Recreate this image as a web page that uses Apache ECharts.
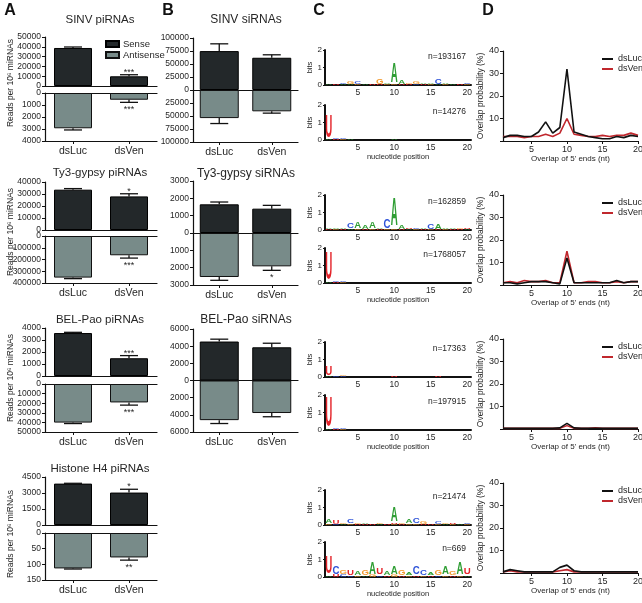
<!DOCTYPE html>
<html><head><meta charset="utf-8">
<script src="https://cdn.jsdelivr.net/npm/echarts@6/dist/echarts.min.js"></script>
<style>html,body{margin:0;padding:0;background:#fff}#c{width:642px;height:603px}</style>
</head><body><div id="c"></div>
<script>
// ---------------- DATA ----------------
const categories = ['dsLuc', 'dsVen'];

// Panel A: piRNAs (sense upper, antisense lower)
const piTitles = ['SINV piRNAs', 'Ty3-gypsy piRNAs', 'BEL-Pao piRNAs', 'Histone H4 piRNAs'];
const piSense = [[38800, 9900], [33600, 28000], [3580, 1480], [3880, 3040]];
const piSenseErr = [[1000, 1600], [900, 2200], [60, 220], [30, 310]];
const piSenseStars = [['', '***'], ['', '*'], ['', '***'], ['', '*']];
const piAnti = [[2940, 560], [354000, 164000], [40200, 19200], [113, 78]];
const piAntiErr = [[140, 220], [9000, 24000], [1000, 2800], [2, 8.6]];
const piAntiStars = [['', '***'], ['', '***'], ['', '***'], ['', '**']];
const piSenseTicks = [[50000, 10000], [40000, 10000], [4000, 1000], [4500, 1500]];
const piAntiTicks = [[4000, 1000], [400000, 100000], [50000, 10000], [150, 50]];

// Panel B: siRNAs
const siTitles = ['SINV siRNAs', 'Ty3-gypsy siRNAs', 'BEL-Pao siRNAs'];
const siSense = [[74800, 62000], [1654, 1404], [4540, 3868]];
const siSenseErr = [[14000, 5700], [134, 190], [275, 474]];
const siAnti = [[54000, 41000], [2538, 1923], [4618, 3789]];
const siAntiErr = [[10500, 3500], [192, 231], [394, 434]];
const siAntiStars = [['', ''], ['', '*'], ['', '']];
const siTicks = [[100000, 25000], [3000, 1000], [6000, 2000]];

// Panel C: sequence logos [position, nucleotide, bits]
const logoCounts = ['n=193167', 'n=14276', 'n=162859', 'n=1768057', 'n=17363', 'n=197915', 'n=21474', 'n=669'];
const logo1 = [[1,'A',0.04],[2,'U',0.04],[3,'C',0.1],[3,'A',0.05],[4,'G',0.12],[4,'A',0.05],[5,'C',0.12],[5,'G',0.05],[6,'A',0.04],[7,'U',0.04],
  [8,'G',0.3],[8,'U',0.05],[9,'A',0.08],[9,'G',0.04],[10,'A',1.15],[10,'G',0.05],[11,'A',0.25],[11,'U',0.05],[12,'G',0.08],[12,'U',0.04],[13,'G',0.14],[13,'C',0.05],
  [14,'A',0.1],[14,'U',0.04],[15,'A',0.09],[15,'G',0.05],[16,'C',0.28],[16,'A',0.05],[17,'A',0.1],[17,'G',0.05],[18,'A',0.08],[19,'U',0.04],[20,'C',0.1],[20,'G',0.04]];
const logo2 = [[1,'U',1.28],[1,'A',0.05],[2,'C',0.05],[2,'U',0.04],[3,'C',0.1],[3,'G',0.05],[4,'A',0.03],[5,'U',0.02],[10,'A',0.03],[11,'U',0.02]];
const logo3 = [[1,'A',0.1],[1,'U',0.04],[2,'A',0.08],[2,'G',0.04],[3,'A',0.1],[3,'U',0.04],[4,'C',0.3],[4,'A',0.06],[5,'A',0.35],[5,'G',0.05],[6,'A',0.2],[6,'U',0.05],
  [7,'A',0.4],[7,'G',0.05],[8,'A',0.08],[8,'U',0.04],[9,'C',0.55],[9,'G',0.05],[10,'A',1.55],[10,'G',0.08],[11,'A',0.18],[11,'U',0.05],[12,'U',0.08],[12,'A',0.04],
  [13,'C',0.06],[13,'G',0.04],[14,'A',0.08],[14,'U',0.04],[15,'C',0.3],[15,'G',0.05],[16,'A',0.28],[16,'U',0.05],[17,'A',0.08],[17,'G',0.04],[18,'A',0.07],[18,'U',0.04],
  [19,'G',0.07],[19,'U',0.05],[20,'U',0.1],[20,'A',0.05]];
const logo4 = [[1,'U',1.62],[1,'A',0.05],[2,'C',0.05],[2,'U',0.03],[3,'C',0.08],[3,'G',0.04],[11,'U',0.02],[19,'U',0.02]];
const logo5 = [[1,'U',0.5],[1,'A',0.05],[2,'C',0.04],[3,'G',0.04],[3,'C',0.03],[10,'U',0.03],[16,'U',0.03]];
const logo6 = [[1,'U',1.75],[1,'A',0.05],[2,'C',0.04],[2,'U',0.03],[3,'C',0.08],[3,'G',0.04]];
const logo7 = [[1,'A',0.25],[1,'G',0.06],[2,'U',0.2],[2,'C',0.05],[3,'G',0.06],[3,'A',0.05],[4,'C',0.25],[4,'G',0.08],[5,'G',0.1],[5,'U',0.05],[6,'A',0.06],[6,'U',0.04],
  [7,'U',0.05],[8,'G',0.06],[8,'A',0.04],[9,'U',0.05],[10,'A',0.8],[10,'U',0.08],[10,'G',0.05],[11,'G',0.08],[11,'U',0.05],[12,'A',0.2],[12,'G',0.07],
  [13,'C',0.3],[13,'G',0.1],[14,'G',0.12],[14,'U',0.06],[15,'U',0.05],[16,'C',0.12],[16,'G',0.06],[17,'G',0.1],[17,'A',0.05],[18,'U',0.06],[18,'G',0.04],[19,'A',0.04],[20,'C',0.08],[20,'G',0.04]];
const logo8 = [[1,'U',0.95],[1,'A',0.1],[2,'C',0.45],[2,'U',0.12],[3,'G',0.22],[3,'C',0.12],[4,'U',0.3],[4,'C',0.1],[5,'A',0.22],[5,'G',0.1],[6,'G',0.32],[6,'A',0.1],
  [7,'A',0.65],[7,'G',0.12],[8,'U',0.4],[8,'C',0.1],[9,'A',0.2],[9,'U',0.1],[10,'A',0.42],[10,'G',0.12],[11,'G',0.32],[11,'U',0.1],[12,'A',0.15],[12,'G',0.08],
  [13,'C',0.42],[13,'U',0.1],[14,'C',0.28],[14,'G',0.1],[15,'A',0.15],[15,'U',0.08],[16,'G',0.32],[16,'C',0.1],[17,'A',0.42],[17,'G',0.1],[18,'G',0.2],[18,'U',0.1],
  [19,'A',0.68],[19,'G',0.1],[20,'U',0.38],[20,'A',0.1]];
const logos = [logo1, logo2, logo3, logo4, logo5, logo6, logo7, logo8];

// Panel D: overlap of 5' ends (nt) vs overlap probability (%)
const overlapPos = [1,2,3,4,5,6,7,8,9,10,11,12,13,14,15,16,17,18,19,20];
const ovLuc = [
  [1.5,2.5,2.5,2,2,4,8.5,3.5,6,32,4,3,2,1.5,1,1,2,1.5,2.5,2],
  [1,1,0.5,1,1.5,1.5,1.5,1,0.5,12,1,1,1,1,1,1,2,1,1.5,1.5],
  [0.3,0.3,0.3,0.3,0.3,0.3,0.3,0.3,0.5,2.5,0.5,0.3,0.3,0.3,0.3,0.3,0.3,0.3,0.3,0.3],
  [0.5,1.5,1,0.5,0.5,0.5,0.5,0.5,2.5,3.5,1,0.5,0.5,0.5,0.5,0.5,0.5,0.5,0.5,0.5]];
const ovVen = [
  [2,2,2,1.5,2,2,3,2,3.5,10,3,2.5,2,2,2.5,2,2.5,2.5,3.5,2.5],
  [1,1.5,1,2,1.5,1.5,2,1,1,15,1,1,1.5,1.5,1,1,1.5,1,1.5,1.5],
  [0.3,0.3,0.3,0.3,0.3,0.3,0.3,0.3,0.3,1.5,0.3,0.3,0.3,0.5,0.3,0.3,0.3,0.3,0.3,0.3],
  [0.5,1,0.5,0.5,0.5,0.5,0.5,0.5,1,1.5,0.5,0.5,0.5,0.5,0.5,0.5,0.5,0.5,0.5,0.5]];

// ---------------- STYLE / LAYOUT ----------------
const FONT = '"Liberation Sans", Arial, Helvetica, sans-serif';
const TXT = '#262626';
const SENSE = '#23282a', ANTI = '#788b89';
const NT_COLORS = { A: '#2f9e34', C: '#2d52d8', G: '#f29a2e', U: '#e4242a' };

const grids = [], xAxes = [], yAxes = [], series = [], graphics = [];
function addGrid(left, top, width, height) {
  grids.push({ left, top, width, height, outerBoundsMode: 'none', containLabel: false });
  return grids.length - 1;
}
const line = (w) => ({ show: true, onZero: false, lineStyle: { color: '#111', width: w || 1.2 } });
const tick = (len) => ({ show: true, length: len || 3, lineStyle: { color: '#111', width: 1 } });
const lbl = (fs, m) => ({ fontSize: fs, margin: m, color: TXT, fontFamily: FONT, formatter: v => String(Math.abs(v)) });
function txt(text, x, y, fs, opt) {
  graphics.push(Object.assign({ type: 'text', x, y, silent: true,
    style: { text, fontSize: fs, fontFamily: FONT, fill: TXT, align: 'center', verticalAlign: 'middle' } }, opt || {}));
}

function errSeries(xi, yi, vals, errs, dir, stars, starOff) {
  return {
    type: 'custom', xAxisIndex: xi, yAxisIndex: yi, z: 5, silent: true,
    data: vals.map((v, i) => [i, v, errs[i]]),
    renderItem: (params, api) => {
      const i = api.value(0), v = api.value(1), e = api.value(2);
      const p0 = api.coord([i, v]), p1 = api.coord([i, v + dir * e]);
      const ch = [
        { type: 'line', shape: { x1: p0[0], y1: p0[1], x2: p1[0], y2: p1[1] }, style: { stroke: '#111', lineWidth: 1.3 } },
        { type: 'line', shape: { x1: p1[0] - 9, y1: p1[1], x2: p1[0] + 9, y2: p1[1] }, style: { stroke: '#111', lineWidth: 1.3 } }
      ];
      const s = stars && stars[params.dataIndex];
      if (s) ch.push({ type: 'text', x: p1[0], y: p1[1] + starOff,
        style: { text: s, fontSize: 9, fontFamily: FONT, fill: TXT, align: 'center', verticalAlign: 'middle' } });
      return { type: 'group', children: ch };
    }
  };
}

// ---- Panel A ----
const aLeft = 45, aW = 112;
const aLayout = [[37, 86, 93, 141], [182, 230, 236, 283], [328, 376, 384, 432], [477, 525, 533, 580]];
const aTitleY = [20, 173, 320, 469];
const aYLabelY = [83, 232, 378, 534];
aLayout.forEach((L, k) => {
  const gt = addGrid(aLeft, L[0], aW, L[1] - L[0]);
  const gb = addGrid(aLeft, L[2], aW, L[3] - L[2]);
  const xt = xAxes.length;
  xAxes.push({ type: 'category', gridIndex: gt, data: categories, position: 'bottom', axisLine: line(), axisTick: { show: false }, axisLabel: { show: false } });
  const yt = yAxes.length;
  yAxes.push({ type: 'value', gridIndex: gt, min: 0, max: piSenseTicks[k][0], interval: piSenseTicks[k][1],
    axisLine: line(), axisTick: tick(3), axisLabel: lbl(8.5, 4), splitLine: { show: false } });
  const xb = xAxes.length;
  xAxes.push({ type: 'category', gridIndex: gb, data: categories, position: 'bottom', axisLine: line(),
    axisTick: Object.assign(tick(3), { alignWithLabel: true }), axisLabel: Object.assign(lbl(10.5, 5), { formatter: v => v }) });
  xAxes.push({ type: 'category', gridIndex: gb, data: categories, position: 'top', axisLine: line(), axisTick: { show: false }, axisLabel: { show: false } });
  const yb = yAxes.length;
  yAxes.push({ type: 'value', gridIndex: gb, inverse: true, min: 0, max: piAntiTicks[k][0], interval: piAntiTicks[k][1],
    axisLine: line(), axisTick: tick(3), axisLabel: lbl(8.5, 4), splitLine: { show: false } });
  series.push({ type: 'bar', name: 'Sense', xAxisIndex: xt, yAxisIndex: yt, data: piSense[k], barWidth: 38,
    itemStyle: { color: SENSE, borderColor: '#000', borderWidth: 1 } });
  series.push(errSeries(xt, yt, piSense[k], piSenseErr[k], 1, piSenseStars[k], -2.5));
  series.push({ type: 'bar', name: 'Antisense', xAxisIndex: xb, yAxisIndex: yb, data: piAnti[k], barWidth: 38,
    itemStyle: { color: ANTI, borderColor: '#111', borderWidth: 1 } });
  series.push(errSeries(xb, yb, piAnti[k], piAntiErr[k], 1, piAntiStars[k], 7));
  txt(piTitles[k], 100, aTitleY[k], 11.5);
  txt('Reads per 10⁶ miRNAs', 11, aYLabelY[k], 8.5, { rotation: Math.PI / 2 });
});

// ---- Panel B ----
const bLeft = 193, bW = 105;
const bLayout = [[38, 142], [181, 285], [329, 432]];
const bTitleY = [20, 174, 320];
bLayout.forEach((L, k) => {
  const g = addGrid(bLeft, L[0], bW, L[1] - L[0]);
  const xi = xAxes.length;
  xAxes.push({ type: 'category', gridIndex: g, data: categories, position: 'bottom', axisLine: line(),
    axisTick: Object.assign(tick(3), { alignWithLabel: true }), axisLabel: Object.assign(lbl(10.5, 5), { formatter: v => v }) });
  xAxes.push({ type: 'category', gridIndex: g, data: categories, axisLine: { show: true, onZero: true, lineStyle: { color: '#111', width: 1.2 } },
    axisTick: { show: false }, axisLabel: { show: false } });
  const yi = yAxes.length;
  const m = siTicks[k][0];
  yAxes.push({ type: 'value', gridIndex: g, min: -m, max: m, interval: siTicks[k][1],
    axisLine: line(), axisTick: tick(3), axisLabel: lbl(8.5, 4), splitLine: { show: false } });
  const neg = siAnti[k].map(v => -v);
  series.push({ type: 'bar', name: 'Sense', stack: 'si' + k, xAxisIndex: xi, yAxisIndex: yi, data: siSense[k], barWidth: 39,
    itemStyle: { color: SENSE, borderColor: '#000', borderWidth: 1 } });
  series.push({ type: 'bar', name: 'Antisense', stack: 'si' + k, xAxisIndex: xi, yAxisIndex: yi, data: neg, barWidth: 39,
    itemStyle: { color: ANTI, borderColor: '#111', borderWidth: 1 } });
  series.push(errSeries(xi, yi, siSense[k], siSenseErr[k], 1, null, 0));
  series.push(errSeries(xi, yi, neg, siAntiErr[k], -1, siAntiStars[k], 7));
  txt(siTitles[k], 246, bTitleY[k], 12);
});

// ---- Panel C ----
const cLeft = 325, cW = 146, cH = 35;
const cTops = [50, 105, 195, 248, 342, 395, 490, 542];
function stackLogo(arr) {
  const byPos = {};
  arr.forEach(([p, n, b]) => { (byPos[p] = byPos[p] || []).push([n, b]); });
  const out = [];
  Object.keys(byPos).forEach(p => {
    let base = 0;
    byPos[p].sort((a, b) => a[1] - b[1]).forEach(([n, b]) => { out.push([+p, base, b, 'ACGU'.indexOf(n)]); base += b; });
  });
  return out;
}
cTops.forEach((t, k) => {
  const g = addGrid(cLeft, t, cW, cH);
  const xi = xAxes.length;
  const named = (k % 2 === 1);
  xAxes.push({ type: 'value', gridIndex: g, min: 0.5, max: 20.5,
    axisLine: line(2), axisTick: { show: false },
    axisLabel: Object.assign(lbl(8.5, 3), { customValues: [5, 10, 15, 20] }), splitLine: { show: false },
    name: named ? 'nucleotide position' : '', nameLocation: 'middle', nameGap: 13,
    nameTextStyle: { fontSize: 7.5, color: TXT, fontFamily: FONT } });
  const yi = yAxes.length;
  yAxes.push({ type: 'value', gridIndex: g, min: 0, max: 2, interval: 1,
    axisLine: line(2), axisTick: tick(2), axisLabel: lbl(8, 3), splitLine: { show: false },
    name: 'bits', nameLocation: 'middle', nameGap: 11, nameTextStyle: { fontSize: 7.5, color: TXT, fontFamily: FONT } });
  series.push({
    type: 'custom', xAxisIndex: xi, yAxisIndex: yi, silent: true,
    data: stackLogo(logos[k]),
    renderItem: (params, api) => {
      const pos = api.value(0), base = api.value(1), h = api.value(2), li = api.value(3);
      const pb = api.coord([pos, base]), pt = api.coord([pos, base + h]);
      const hp = pb[1] - pt[1];
      if (hp < 0.25) return null;
      const w = api.size([1, 0])[0] * 0.95;
      const F = 40, L = 'ACGU'[li];
      return { type: 'text', x: pb[0], y: (pb[1] + pt[1]) / 2, scaleX: w / (0.72 * F), scaleY: hp / (0.716 * F),
        style: { text: L, fontSize: F, fontWeight: 'bold', fontFamily: FONT, fill: NT_COLORS[L], align: 'center', verticalAlign: 'middle' } };
    }
  });
  txt(logoCounts[k], 466, t + 7, 8.5, { style: { text: logoCounts[k], fontSize: 8.5, fontFamily: FONT, fill: TXT, align: 'right', verticalAlign: 'middle' } });
});

// ---- Panel D ----
const dLeft = 503, dW = 135, dH = 90;
const dTops = [51, 195, 339, 483];
const legends = [{
  data: ['Sense', 'Antisense'], orient: 'vertical', left: 100, top: 34, itemWidth: 13, itemHeight: 6, itemGap: 1, icon: 'rect',
  textStyle: { fontSize: 9.5, color: TXT, fontFamily: FONT, padding: [0, 0, 0, -1] }, selectedMode: false
}];
dTops.forEach((t, k) => {
  const g = addGrid(dLeft, t, dW, dH);
  const xi = xAxes.length;
  xAxes.push({ type: 'value', gridIndex: g, min: 1, max: 20,
    axisLine: line(1.2), axisTick: Object.assign(tick(3), { customValues: [5, 10, 15, 20] }),
    axisLabel: Object.assign(lbl(9, 4), { customValues: [5, 10, 15, 20] }), splitLine: { show: false },
    name: "Overlap of 5' ends (nt)", nameLocation: 'middle', nameGap: 13, nameTextStyle: { fontSize: 8, color: TXT, fontFamily: FONT } });
  const yi = yAxes.length;
  yAxes.push({ type: 'value', gridIndex: g, min: 0, max: 40, interval: 10,
    axisLine: line(1.2), axisTick: tick(3), axisLabel: Object.assign(lbl(9, 4), { formatter: v => v === 0 ? '' : String(v) }),
    splitLine: { show: false },
    name: 'Overlap probability (%)', nameLocation: 'middle', nameGap: 13, nameTextStyle: { fontSize: 8.5, color: TXT, fontFamily: FONT } });
  series.push({ type: 'line', name: 'dsVen', xAxisIndex: xi, yAxisIndex: yi, showSymbol: false, symbol: 'none',
    data: overlapPos.map((p, i) => [p, ovVen[k][i]]), lineStyle: { color: '#c0272d', width: 1.6 }, itemStyle: { color: '#c0272d' } });
  series.push({ type: 'line', name: 'dsLuc', xAxisIndex: xi, yAxisIndex: yi, showSymbol: false, symbol: 'none',
    data: overlapPos.map((p, i) => [p, ovLuc[k][i]]), lineStyle: { color: '#111', width: 1.6 }, itemStyle: { color: '#111' } });
  legends.push({ data: ['dsLuc', 'dsVen'], orient: 'vertical', left: 597, top: t - 1.5, itemWidth: 11, itemHeight: 2, itemGap: 1, icon: 'rect',
    textStyle: { fontSize: 9, color: TXT, fontFamily: FONT }, selectedMode: false });
});

// panel letters
[['A', 10, 11], ['B', 168, 11], ['C', 319, 11], ['D', 488, 11]].forEach(([t, x, y]) =>
  txt(t, x, y, 16, { style: { text: t, fontSize: 16, fontWeight: 'bold', fontFamily: FONT, fill: '#111', align: 'center', verticalAlign: 'middle' } }));

const chart = echarts.init(document.getElementById('c'), null, { renderer: 'canvas' });
chart.setOption({
  animation: false, backgroundColor: '#fff',
  grid: grids, xAxis: xAxes, yAxis: yAxes, series, legend: legends,
  graphic: { elements: graphics }
});
</script></body></html>
